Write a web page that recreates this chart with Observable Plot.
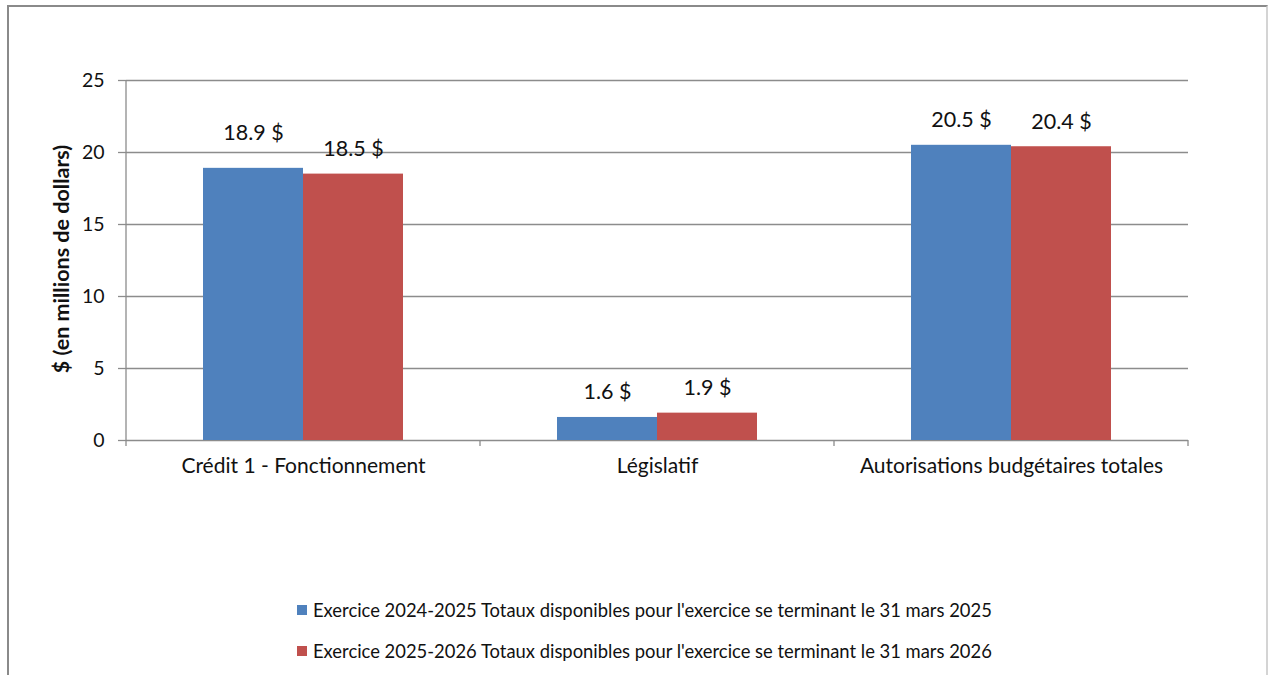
<!DOCTYPE html>
<html>
<head>
<meta charset="utf-8">
<script src="https://cdn.jsdelivr.net/npm/d3@7"></script>
<script src="https://cdn.jsdelivr.net/npm/@observablehq/plot@0.6"></script>
<style>
  html, body { margin: 0; padding: 0; background: #fff; width: 1268px; height: 675px; overflow: hidden; }
  #frame { position: absolute; left: 7px; top: 5px; width: 1261px; height: 720px; box-sizing: border-box;
           border-top: 2px solid #8a8a8a; border-left: 2px solid #8a8a8a; border-right: 2px solid #d4d4d4; }
  #chart { position: absolute; left: 0; top: 0; }
  #legend { position: absolute; left: 297px; top: 597px; font-family: Lato, sans-serif; font-size: 18.4px; color: #111; }
  .row { display: flex; align-items: center; height: 26px; margin-bottom: 15px; white-space: nowrap; }
  .sw { width: 10px; height: 10px; margin-right: 6px; flex: none; }
</style>
</head>
<body>
<div id="frame"></div>
<div id="chart"></div>
<div id="legend"></div>
<script>
const categories = ["Crédit 1 - Fonctionnement", "Législatif", "Autorisations budgétaires totales"];
const series = [
  "Exercice 2024-2025 Totaux disponibles pour l'exercice se terminant le 31 mars 2025",
  "Exercice 2025-2026 Totaux disponibles pour l'exercice se terminant le 31 mars 2026"
];
const values2024 = [18.9, 1.6, 20.5];
const values2025 = [18.5, 1.9, 20.4];
const yTicks = [0, 5, 10, 15, 20, 25];
const colors = ["#4F81BD", "#C0504D"];
const yLabel = "$ (en millions de dollars)";

const data = categories.flatMap((c, i) => [
  {cat: c, series: series[0], value: values2024[i], first: i === 0},
  {cat: c, series: series[1], value: values2025[i], first: false}
]);

const fmt = d => `${d.value.toFixed(1)} $`;
const gridColor = "#8c8c8c";

const chart = Plot.plot({
  width: 1268,
  height: 500,
  marginLeft: 126,
  marginRight: 80,
  marginTop: 80,
  marginBottom: 60,
  style: {fontFamily: "Lato, sans-serif", fontSize: "19px", color: "#111", background: "transparent", overflow: "visible"},
  fx: {domain: categories, padding: 0, label: null},
  x: {domain: series, paddingInner: 0, paddingOuter: 0.76, axis: null},
  y: {domain: [0, 25], label: null},
  color: {domain: series, range: colors},
  marks: [
    Plot.gridY(yTicks, {stroke: gridColor, strokeOpacity: 1, strokeWidth: 1.3}),
    Plot.barY(data, {fx: "cat", x: "series", y: "value", fill: "series"}),
    Plot.text(data.filter(d => !d.first), {fx: "cat", x: "series", y: "value", text: fmt, dy: -25, fill: "#111", fontSize: 21.5}),
    Plot.text(data.filter(d => d.first), {fx: "cat", x: "series", y: "value", text: fmt, dy: -35, fill: "#111", fontSize: 21.5}),
    Plot.axisY(yTicks, {tickSize: 8, tickPadding: 14, label: null, stroke: gridColor, strokeWidth: 1.3, fill: "#111", fontSize: 19.5}),
    Plot.axisFx({anchor: "bottom", tickSize: 0, tickPadding: 18, label: null, fill: "#111", fontSize: 21})
  ]
});

const fxs = chart.scale("fx");
const ys = chart.scale("y");
const svg = d3.select(chart);
const y0 = ys.apply(0), yTop = ys.apply(25);
const left = fxs.apply(categories[0]);
svg.append("line")
  .attr("x1", left).attr("x2", left).attr("y1", yTop).attr("y2", y0 + 6)
  .attr("stroke", gridColor).attr("stroke-width", 1.3);
categories.forEach(c => {
  const xr = fxs.apply(c) + fxs.bandwidth;
  svg.append("line")
    .attr("x1", xr).attr("x2", xr).attr("y1", y0).attr("y2", y0 + 6)
    .attr("stroke", gridColor).attr("stroke-width", 1.3);
});
svg.append("text")
  .attr("transform", `translate(63,${(y0 + yTop) / 2 - 1}) rotate(-90)`)
  .attr("text-anchor", "middle")
  .attr("dominant-baseline", "middle")
  .attr("font-weight", "bold")
  .attr("font-size", 21.5)
  .attr("fill", "#111")
  .text(yLabel);

document.getElementById("chart").appendChild(chart);

const legend = d3.select("#legend");
series.forEach((s, i) => {
  const row = legend.append("div").attr("class", "row");
  row.append("div").attr("class", "sw").style("background", colors[i]);
  row.append("span").text(s);
});
</script>
</body>
</html>
